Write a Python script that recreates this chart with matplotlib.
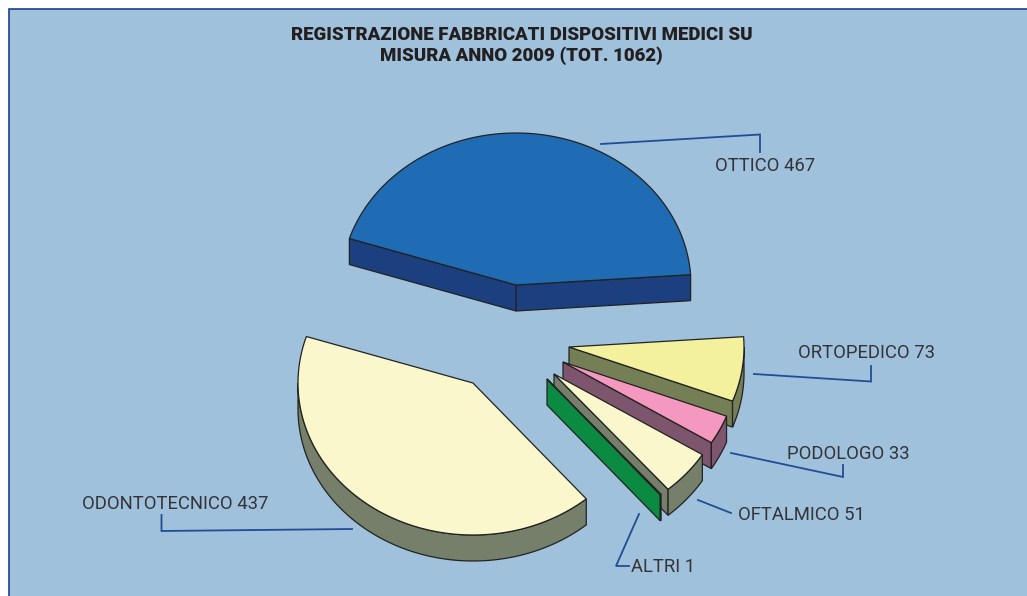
import numpy as np
import matplotlib
matplotlib.use("Agg")
import matplotlib.pyplot as plt
from matplotlib.patches import Polygon, Rectangle

plt.rcParams['font.family'] = ['Roboto', 'DejaVu Sans']

# Dati
categorie = ["ODONTOTECNICO", "ALTRI", "OFTALMICO", "PODOLOGO", "ORTOPEDICO", "OTTICO"]
valori = [437, 1, 51, 33, 73, 467]
titolo = "REGISTRAZIONE FABBRICATI DISPOSITIVI MEDICI SU\nMISURA ANNO 2009 (TOT. 1062)"

# Stile di ogni fetta
colori_top = ["#FAF7CC", "#0B8A42", "#FAF7CC", "#F598C0", "#F4F19E", "#1F6CB5"]
colori_lato = ["#757F6A", "#0B8A42", "#757F6A", "#7D556C", "#757F55", "#1C3F80"]
centri = [(473, 383), (547, 379), (554, 374), (563, 362), (569, 347), (516, 285)]
pos_etichette = [(82, 504), (631, 567), (738, 515), (787, 454), (798, 353), (715, 166)]
leader = [
    [(161.5, 515), (161.5, 531), (352, 529)],
    [(639, 514), (616, 566), (629, 566)],
    [(698, 500), (731, 513)],
    [(731, 453), (843, 477), (843, 465)],
    [(754, 374), (871, 381.5), (871, 366)],
    [(601, 144), (760, 134.5), (760, 152)],
]
ANG_INIZIO = 162.2
RX, RY, H = 175, 152, 26
BG = "#A0C1DB"
BORDO = "#1F3F8C"
LINEA = "#222222"


def arco(c, a0, a1, dy=0):
    t = np.radians(np.linspace(a0, a1, max(int(abs(a1 - a0)) + 2, 2)))
    return np.column_stack([c[0] + RX * np.cos(t), c[1] - RY * np.sin(t) + dy])


def fetta(ax, c, a0, a1, top, lato, z):
    # pareti radiali, solo quelle rivolte verso chi guarda
    for a, normale in ((a0, a0 - 90), (a1, a1 + 90)):
        if np.sin(np.radians(normale)) >= 0:
            continue
        p = arco(c, a, a)[0]
        muro = [c, tuple(p), (p[0], p[1] + H), (c[0], c[1] + H)]
        ax.add_patch(Polygon(muro, fc=lato, ec=LINEA, lw=0.9, zorder=z))
    # bordo esterno, solo la parte davanti
    t0, t1 = max(a0, 180), min(a1, 360)
    if t1 > t0:
        su = arco(c, t0, t1)
        giu = arco(c, t1, t0, H)
        ax.add_patch(Polygon(np.vstack([su, giu]), fc=lato, ec=LINEA, lw=0.9, zorder=z))
    punti = np.vstack([[c], arco(c, a0, a1)])
    ax.add_patch(Polygon(punti, fc=top, ec=LINEA, lw=0.9, zorder=z + 0.5))


fig = plt.figure(figsize=(10.27, 5.96), dpi=100)
ax = fig.add_axes([0, 0, 1, 1])
ax.set_xlim(0, 1027)
ax.set_ylim(596, 0)
ax.axis("off")

ax.add_patch(Rectangle((8.5, 8.5), 1030, 600, fc=BG, ec=BORDO, lw=1.2, zorder=0))

ax.text(521.5, 45.5, titolo, ha="center", va="center", fontsize=13.4, fontweight="black",
        color="#231F20", linespacing=1.12, zorder=10)

angoli = ANG_INIZIO + np.concatenate([[0], np.cumsum(valori)]) / sum(valori) * 360
# dal fondo verso il davanti: ogni fetta copre quella precedente
ordine = [5, 4, 3, 2, 1, 0]
for z, i in enumerate(ordine):
    fetta(ax, centri[i], angoli[i], angoli[i + 1], colori_top[i], colori_lato[i], 2 + z)

for i, nome in enumerate(categorie):
    xs, ys = zip(*leader[i])
    ax.plot(xs, ys, color="#1F4E96", lw=1.3, solid_joinstyle="miter", zorder=9)
    ax.text(pos_etichette[i][0], pos_etichette[i][1], f"{nome} {valori[i]}", ha="left", va="center",
            fontsize=13.3, color="#333338", zorder=10)

fig.savefig("out.png", dpi=100)
